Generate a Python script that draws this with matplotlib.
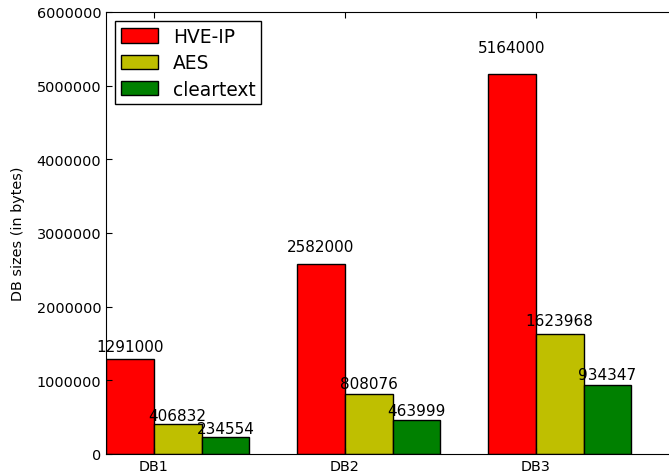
import numpy as np
import matplotlib
matplotlib.use("Agg")
import matplotlib.pyplot as plt

databases = ["DB1", "DB2", "DB3"]
hve_ip = [1291000, 2582000, 5164000]
aes = [406832, 808076, 1623968]
cleartext = [234554, 463999, 934347]

ind = np.arange(len(databases))
width = 0.25

fig = plt.figure(figsize=(6.69, 4.77), dpi=100)
# axes run past the right edge, like the cropped original
ax = fig.add_axes([106 / 669, 1 - 455 / 477, 573 / 669, 442 / 477])

rects1 = ax.bar(ind, hve_ip, width, color="r", edgecolor="k", align="edge")
rects2 = ax.bar(ind + width, aes, width, color="y", edgecolor="k", align="edge")
rects3 = ax.bar(ind + 2 * width, cleartext, width, color="g", edgecolor="k", align="edge")


def autolabel(rects):
    for rect in rects:
        height = rect.get_height()
        ax.text(rect.get_x() + rect.get_width() / 2., 1.05 * height, '%d' % int(height),
                ha='center', va='bottom', fontsize=11)


autolabel(rects1)
autolabel(rects2)
autolabel(rects3)

ax.set_xlim(0, 3.0)
ax.set_ylim(0, 6000000)
ax.set_xticks(ind + width)
ax.set_xticklabels(databases)
ax.set_yticks(np.arange(0, 6000001, 1000000))
ax.ticklabel_format(axis="y", style="plain", useOffset=False)
ax.tick_params(labelsize=10.4, direction="in", top=True, right=True, length=4)
ax.set_ylabel("DB sizes (in bytes)", fontsize=10.4, labelpad=8)

leg = ax.legend((rects1[0], rects2[0], rects3[0]), ("HVE-IP", "AES", "cleartext"),
                loc="upper left", fontsize=13.4, fancybox=False, framealpha=1,
                handlelength=2.0, handleheight=0.8, borderpad=0.3, labelspacing=0.4)
leg.get_frame().set_edgecolor("k")

fig.savefig("out.png", dpi=100)
